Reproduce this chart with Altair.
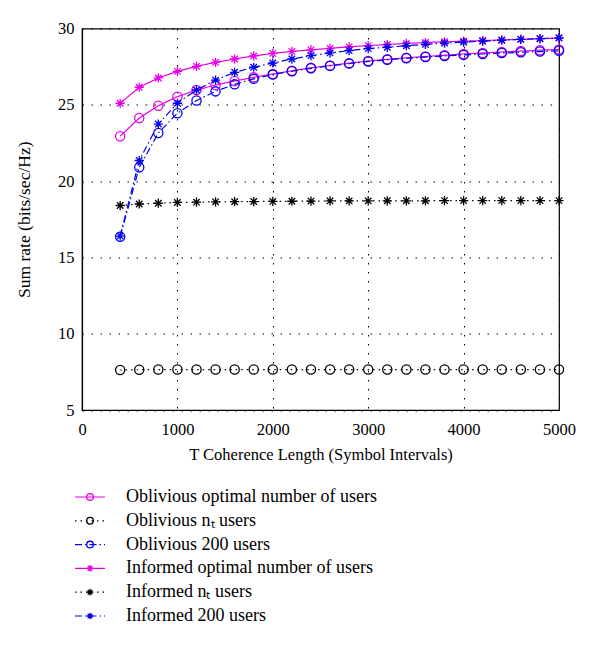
import altair as alt
import pandas as pd

T = [400, 600, 800, 1000, 1200, 1400, 1600, 1800, 2000, 2200, 2400, 2600,
     2800, 3000, 3200, 3400, 3600, 3800, 4000, 4200, 4400, 4600, 4800, 5000]

obl_opt = [22.94, 24.13, 24.94, 25.53, 25.97, 26.30, 26.56, 26.80, 27.02, 27.23, 27.42, 27.58,
           27.73, 27.87, 27.98, 28.08, 28.17, 28.25, 28.33, 28.40, 28.46, 28.52, 28.58, 28.63]
obl_nt = [7.62, 7.64, 7.65, 7.65, 7.65, 7.65, 7.65, 7.65, 7.65, 7.65, 7.65, 7.65,
          7.65, 7.65, 7.65, 7.65, 7.65, 7.65, 7.65, 7.65, 7.65, 7.65, 7.65, 7.65]
obl_200 = [16.35, 20.90, 23.15, 24.45, 25.28, 25.88, 26.34, 26.70, 26.98, 27.20, 27.39, 27.55,
           27.70, 27.84, 27.95, 28.05, 28.13, 28.20, 28.27, 28.33, 28.39, 28.44, 28.49, 28.54]
inf_opt = [25.10, 26.15, 26.76, 27.19, 27.52, 27.78, 28.00, 28.20, 28.37, 28.50, 28.60, 28.70,
           28.80, 28.88, 28.95, 29.02, 29.08, 29.13, 29.17, 29.21, 29.25, 29.29, 29.33, 29.37]
inf_nt = [18.40, 18.50, 18.55, 18.60, 18.62, 18.64, 18.65, 18.66, 18.67, 18.68, 18.69, 18.70,
          18.70, 18.70, 18.71, 18.71, 18.71, 18.72, 18.72, 18.72, 18.72, 18.72, 18.72, 18.72]
inf_200 = [16.40, 21.35, 23.74, 25.10, 25.97, 26.62, 27.13, 27.46, 27.74, 28.00, 28.22, 28.40,
           28.55, 28.68, 28.77, 28.87, 28.96, 29.04, 29.11, 29.17, 29.23, 29.29, 29.34, 29.39]

series_names = ["Oblivious optimal number of users", "Oblivious nₜ users", "Oblivious 200 users",
                "Informed optimal number of users", "Informed nₜ users", "Informed 200 users"]
series_values = [obl_opt, obl_nt, obl_200, inf_opt, inf_nt, inf_200]

MAG = "#e600e6"
BLU = "#0000ee"
BLK = "#000000"
STAR = "M0,-1L0,1M-1,0L1,0M-0.7,-0.7L0.7,0.7M-0.7,0.7L0.7,-0.7"
colors = [MAG, BLK, BLU, MAG, BLK, BLU]
shapes = ["circle", "circle", "circle", STAR, STAR, STAR]
dashes = [[1, 0], [1.5, 4], [7, 3, 1.5, 3], [1, 0], [1.5, 4], [7, 3, 1.5, 3]]

rows = []
for name, vals in zip(series_names, series_values):
    for t, v in zip(T, vals):
        rows.append({"series": name, "T": t, "rate": v})
df = pd.DataFrame(rows)

FONT = "Liberation Serif"
xs = alt.Scale(domain=[0, 5000], nice=False)
ys = alt.Scale(domain=[5, 30], nice=False)
xax = alt.Axis(values=[0, 1000, 2000, 3000, 4000, 5000], format="d",
               title="T Coherence Length (Symbol Intervals)", titlePadding=9,
               labelPadding=11, titleFontSize=16.5, labelFlush=False)
yax = alt.Axis(values=[5, 10, 15, 20, 25, 30], format="d", title="Sum rate (bits/sec/Hz)",
               titlePadding=24, labelPadding=8, titleFontSize=17.5, labelFlush=False)

layers = []
for i, name in enumerate(series_names):
    base = alt.Chart(df).transform_filter(alt.datum.series == name)
    xenc = alt.X("T:Q", scale=xs, axis=xax)
    yenc = alt.Y("rate:Q", scale=ys, axis=yax)
    line = base.mark_line(color=colors[i], strokeDash=dashes[i], strokeWidth=1.2).encode(x=xenc, y=yenc)
    pts = base.mark_point(shape=shapes[i], filled=False, color=colors[i], size=85,
                          strokeWidth=1.3, opacity=1).encode(x=xenc, y=yenc)
    layers += [line, pts]

main = alt.layer(*layers)

leg_df = pd.DataFrame({"series": series_names, "label": series_names})
ly = alt.Y("series:N", sort=series_names, axis=None,
           scale=alt.Scale(type="point", domain=series_names, range=[468.5, 587.5], padding=0))
cs = alt.Scale(domain=series_names, range=colors)
leg_lines = []
for i, name in enumerate(series_names):
    leg_lines.append(
        alt.Chart(leg_df).transform_filter(alt.datum.series == name)
        .mark_rule(color=colors[i], strokeDash=dashes[i], strokeWidth=1.2)
        .encode(x=alt.value(-7), x2=alt.value(23), y=ly)
    )
leg_pts = alt.Chart(leg_df).mark_point(filled=False, size=45, strokeWidth=1.3, opacity=1).encode(
    x=alt.value(8), y=ly,
    color=alt.Color("series:N", scale=cs, legend=None),
    shape=alt.Shape("series:N", scale=alt.Scale(domain=series_names, range=shapes), legend=None),
)
leg_txt = alt.Chart(leg_df).mark_text(align="left", baseline="middle", font=FONT, fontSize=18,
                                      color="black").encode(
    x=alt.value(44), y=ly, text="label:N")

legend = alt.layer(*leg_lines, leg_pts, leg_txt)

chart = alt.layer(main, legend).resolve_scale(y="independent", color="independent",
                                              shape="independent").properties(
    width=477, height=381.5,
    padding={"left": 7, "top": 12.5, "right": 5, "bottom": 5},
).configure_view(stroke="black", strokeWidth=1.2).configure_axis(
    labelFont=FONT, titleFont=FONT, labelFontSize=16.5, titleFontSize=16,
    titleFontWeight="normal", labelColor="black", titleColor="black",
    domainColor="black", domainWidth=1.2, ticks=False,
    grid=True, gridColor="black", gridDash=[1.5, 7.5], gridOpacity=1, gridWidth=1,
)

chart.save("out.html", embed_options={"renderer": "svg", "actions": False})
